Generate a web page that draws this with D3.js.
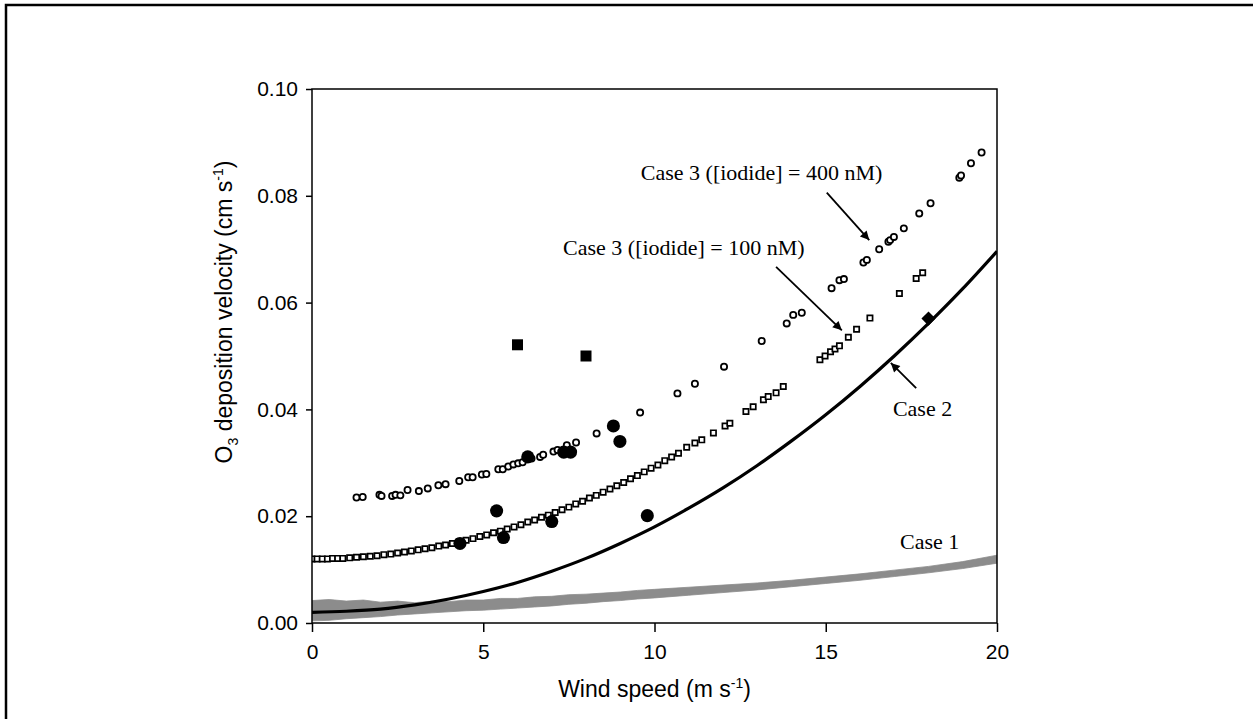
<!DOCTYPE html>
<html>
<head>
<meta charset="utf-8">
<script src="https://cdn.jsdelivr.net/npm/d3@7"></script>
<style>
  body { margin: 0; background: #fff; }
  svg { display: block; }
  .axis text { font-family: 'Liberation Sans', Arial, sans-serif; font-size: 21px; fill: #000; }
  .axis path, .axis line { stroke: #000; stroke-width: 1.5px; }
  .title { font-family: 'Liberation Sans', Arial, sans-serif; font-size: 23px; fill: #000; }
  .note { font-family: 'Liberation Serif', 'Times New Roman', serif; font-size: 22px; fill: #000; }
</style>
</head>
<body>
<script>
'use strict'

// wind speed ticks and deposition velocity ticks
const xTicks = [0, 5, 10, 15, 20]
const yTicks = [0.00, 0.02, 0.04, 0.06, 0.08, 0.10]

// Case 3, [iodide] = 400 nM (open circles)
const iod400 = [
  [1.30, 0.0235], [1.48, 0.0236], [1.97, 0.0240], [2.03, 0.0238], [2.34, 0.0238],
  [2.44, 0.0240], [2.58, 0.0239], [2.79, 0.0249], [3.12, 0.0247], [3.38, 0.0252],
  [3.69, 0.0258], [3.90, 0.0260], [4.30, 0.0266], [4.56, 0.0273], [4.69, 0.0273],
  [4.96, 0.0278], [5.09, 0.0279], [5.44, 0.0288], [5.57, 0.0288], [5.73, 0.0293],
  [5.88, 0.0297], [6.02, 0.0299], [6.15, 0.0301], [6.41, 0.0308], [6.66, 0.0311],
  [6.75, 0.0315], [7.05, 0.0321], [7.17, 0.0324], [7.44, 0.0333], [7.71, 0.0338],
  [8.31, 0.0355], [9.58, 0.0394], [10.67, 0.0430], [11.18, 0.0448], [12.03, 0.0480],
  [13.13, 0.0528], [13.86, 0.0561], [14.05, 0.0577], [14.30, 0.0581], [15.17, 0.0627],
  [15.40, 0.0642], [15.53, 0.0644], [16.10, 0.0675], [16.20, 0.0680], [16.56, 0.0700],
  [16.83, 0.0714], [16.88, 0.0717], [16.99, 0.0723], [17.28, 0.0739], [17.73, 0.0767],
  [18.06, 0.0786], [18.90, 0.0834], [18.95, 0.0838], [19.24, 0.0861], [19.55, 0.0881]
]

// Case 3, [iodide] = 100 nM (open squares)
const iod100 = [
  [0.00, 0.0120], [0.15, 0.0120], [0.30, 0.0120], [0.45, 0.0120], [0.60, 0.0121],
  [0.75, 0.0121], [0.90, 0.0121], [1.10, 0.0122], [1.30, 0.0123], [1.50, 0.0124],
  [1.70, 0.0125], [1.90, 0.0126], [2.10, 0.0128], [2.30, 0.0129], [2.50, 0.0131],
  [2.70, 0.0133], [2.90, 0.0135], [3.10, 0.0137], [3.30, 0.0139], [3.50, 0.0141],
  [3.70, 0.0144], [3.90, 0.0146], [4.10, 0.0149], [4.30, 0.0152], [4.50, 0.0155],
  [4.70, 0.0158], [4.90, 0.0162], [5.10, 0.0165], [5.30, 0.0169], [5.50, 0.0172],
  [5.70, 0.0176], [5.90, 0.0180], [6.10, 0.0184], [6.30, 0.0189], [6.50, 0.0193],
  [6.70, 0.0198], [6.90, 0.0202], [7.10, 0.0207], [7.30, 0.0212], [7.50, 0.0217],
  [7.70, 0.0223], [7.90, 0.0228], [8.10, 0.0234], [8.30, 0.0239], [8.50, 0.0245],
  [8.70, 0.0251], [8.90, 0.0257], [9.10, 0.0263], [9.30, 0.0270], [9.50, 0.0276],
  [9.70, 0.0283], [9.90, 0.0290], [10.10, 0.0296], [10.30, 0.0304], [10.50, 0.0311],
  [10.70, 0.0318], [10.94, 0.0329], [11.18, 0.0337], [11.38, 0.0343], [11.72, 0.0356],
  [12.06, 0.0369], [12.20, 0.0374], [12.67, 0.0396], [12.88, 0.0405], [13.18, 0.0418],
  [13.32, 0.0424], [13.55, 0.0431], [13.76, 0.0443], [14.83, 0.0493], [14.98, 0.0500],
  [15.14, 0.0508], [15.27, 0.0513], [15.40, 0.0519], [15.66, 0.0535], [15.90, 0.0550],
  [16.29, 0.0571], [17.15, 0.0617], [17.64, 0.0645], [17.83, 0.0656]
]

// Case 2 curve
const case2 = [
  [0, 0.0020], [1, 0.0022], [2, 0.0026], [3, 0.0034], [4, 0.0045], [5, 0.0059],
  [6, 0.0076], [7, 0.0097], [8, 0.0121], [9, 0.0149], [10, 0.0180], [11, 0.0215],
  [12, 0.0253], [13, 0.0295], [14, 0.0341], [15, 0.0390], [16, 0.0443], [17, 0.0500],
  [18, 0.0561], [19, 0.0626], [20, 0.0696]
]

// Case 1 band: wind speed, lower, upper
const case1 = [
  [0, 0.0004, 0.0042], [0.5, 0.0005, 0.0044], [1, 0.0008, 0.0041], [1.5, 0.0010, 0.0043],
  [2, 0.0012, 0.0039], [2.5, 0.0015, 0.0041], [3, 0.0017, 0.0038], [3.5, 0.0019, 0.0041],
  [4, 0.0021, 0.0040], [4.5, 0.0023, 0.0043], [5, 0.0024, 0.0043], [5.5, 0.0026, 0.0046],
  [6, 0.0028, 0.0046], [6.5, 0.0030, 0.0049], [7, 0.0032, 0.0050], [7.5, 0.0035, 0.0053],
  [8, 0.0037, 0.0054], [8.5, 0.0040, 0.0056], [9, 0.0042, 0.0058], [9.5, 0.0045, 0.0061],
  [10, 0.0047, 0.0063], [11, 0.0052, 0.0067], [12, 0.0057, 0.0071], [13, 0.0062, 0.0075],
  [14, 0.0068, 0.0080], [15, 0.0074, 0.0086], [16, 0.0080, 0.0092], [17, 0.0087, 0.0099],
  [18, 0.0094, 0.0106], [19, 0.0102, 0.0115], [20, 0.0112, 0.0127]
]

// measurements
const obsCircles = [
  [4.32, 0.0149], [5.39, 0.0210], [5.59, 0.0160], [6.30, 0.0311], [7.00, 0.0190],
  [7.35, 0.0320], [7.55, 0.0320], [8.80, 0.0369], [8.99, 0.0340], [9.79, 0.0201]
]
const obsSquares = [[6.0, 0.0521], [8.0, 0.0500]]
const obsDiamond = [[18.0, 0.0570]]

// labels: text, x, y (data units)
const notes = [
  ['Case 3 ([iodide] = 400 nM)', 9.6, 0.0830],
  ['Case 3 ([iodide] = 100 nM)', 7.33, 0.0690],
  ['Case 2', 16.96, 0.0388],
  ['Case 1', 17.17, 0.0139]
]
// arrows: x1, y1, x2, y2 (data units), head at second point
const arrows = [
  [15.03, 0.0806, 16.27, 0.0717],
  [13.55, 0.0667, 15.47, 0.0548],
  [17.64, 0.0440, 16.90, 0.0487]
]

const width = 1253
const height = 719
const margin = { top: 89, right: 256, bottom: 96, left: 312 }

const svg = d3.select('body').append('svg')
  .attr('width', width)
  .attr('height', height)

// outer frame (runs off right and bottom)
svg.append('path')
  .attr('d', 'M6,' + (height + 5) + 'V5H' + (width + 5))
  .attr('fill', 'none')
  .attr('stroke', '#000')
  .attr('stroke-width', 2.5)

const x = d3.scaleLinear().domain([0, 20]).range([margin.left, width - margin.right])
const y = d3.scaleLinear().domain([0, 0.10]).range([height - margin.bottom, margin.top])

const defs = svg.append('defs')
defs.append('clipPath').attr('id', 'clip')
  .append('rect')
  .attr('x', x(0)).attr('y', y(0.10))
  .attr('width', x(20) - x(0)).attr('height', y(0) - y(0.10))
defs.append('marker')
  .attr('id', 'head')
  .attr('viewBox', '0 0 10 10')
  .attr('refX', 10).attr('refY', 5)
  .attr('markerWidth', 14).attr('markerHeight', 9)
  .attr('markerUnits', 'userSpaceOnUse')
  .attr('orient', 'auto')
  .append('path')
  .attr('d', 'M0,0L10,5L0,10Z')
  .attr('fill', '#000')

const plot = svg.append('g').attr('clip-path', 'url(#clip)')

// Case 1
plot.append('path')
  .datum(case1)
  .attr('fill', '#8c8c8c')
  .attr('stroke', '#8c8c8c')
  .attr('stroke-width', 0.8)
  .attr('d', d3.area()
    .x(d => x(d[0]))
    .y0(d => y(d[1]))
    .y1(d => y(d[2])))

// Case 2
plot.append('path')
  .datum(case2)
  .attr('fill', 'none')
  .attr('stroke', '#000')
  .attr('stroke-width', 3.2)
  .attr('d', d3.line()
    .x(d => x(d[0]))
    .y(d => y(d[1]))
    .curve(d3.curveMonotoneX))

function drawSymbols (data, type, size, filled, rotate, sw) {
  plot.append('g').selectAll('path')
    .data(data)
    .enter()
    .append('path')
    .attr('transform', d => 'translate(' + x(d[0]) + ',' + y(d[1]) + ')' + (rotate ? ' rotate(45)' : ''))
    .attr('d', d3.symbol().type(type).size(size))
    .attr('fill', filled ? '#000' : '#fff')
    .attr('stroke', '#000')
    .attr('stroke-width', filled ? 0 : sw)
}

drawSymbols(iod100, d3.symbolSquare, 28, false, false, 1.7)
drawSymbols(iod400, d3.symbolCircle, 30, false, false, 1.8)
drawSymbols(obsCircles, d3.symbolCircle, 135, true)
drawSymbols(obsSquares, d3.symbolSquare, 121, true)
drawSymbols(obsDiamond, d3.symbolSquare, 100, true, true)

// plot box
svg.append('rect')
  .attr('x', x(0)).attr('y', y(0.10))
  .attr('width', x(20) - x(0)).attr('height', y(0) - y(0.10))
  .attr('fill', 'none')
  .attr('stroke', '#000')
  .attr('stroke-width', 1.5)

svg.append('g')
  .attr('class', 'axis x')
  .attr('transform', 'translate(0,' + y(0) + ')')
  .call(d3.axisBottom(x).tickValues(xTicks).tickSize(9).tickSizeOuter(0).tickPadding(12))

svg.append('g')
  .attr('class', 'axis y')
  .attr('transform', 'translate(' + x(0) + ',0)')
  .call(d3.axisLeft(y).tickValues(yTicks).tickFormat(d3.format('.2f')).tickSize(6).tickSizeOuter(0).tickPadding(8))

svg.selectAll('.axis .domain').remove()

// axis titles
const xTitle = svg.append('text')
  .attr('class', 'title')
  .attr('text-anchor', 'middle')
  .attr('x', (x(0) + x(20)) / 2)
  .attr('y', 697)
xTitle.append('tspan').text('Wind speed (m s')
xTitle.append('tspan').attr('dy', -9).attr('font-size', 14).text('-1')
xTitle.append('tspan').attr('dy', 9).text(')')

const yTitle = svg.append('text')
  .attr('class', 'title')
  .attr('text-anchor', 'middle')
  .attr('transform', 'translate(232,' + 312 + ') rotate(-90)')
yTitle.append('tspan').text('O')
yTitle.append('tspan').attr('dy', 6).attr('font-size', 14).text('3')
yTitle.append('tspan').attr('dy', -6).text(' deposition velocity (cm s')
yTitle.append('tspan').attr('dy', -9).attr('font-size', 14).text('-1')
yTitle.append('tspan').attr('dy', 9).text(')')

// annotations
svg.append('g').selectAll('text')
  .data(notes)
  .enter()
  .append('text')
  .attr('class', 'note')
  .attr('x', d => x(d[1]))
  .attr('y', d => y(d[2]))
  .attr('fill', d => d[0] === 'Case 1' ? '#666' : '#000')
  .text(d => d[0])

svg.append('g').selectAll('line')
  .data(arrows)
  .enter()
  .append('line')
  .attr('x1', d => x(d[0]))
  .attr('y1', d => y(d[1]))
  .attr('x2', d => x(d[2]))
  .attr('y2', d => y(d[3]))
  .attr('stroke', '#000')
  .attr('stroke-width', 1.8)
  .attr('marker-end', 'url(#head)')
</script>
</body>
</html>
